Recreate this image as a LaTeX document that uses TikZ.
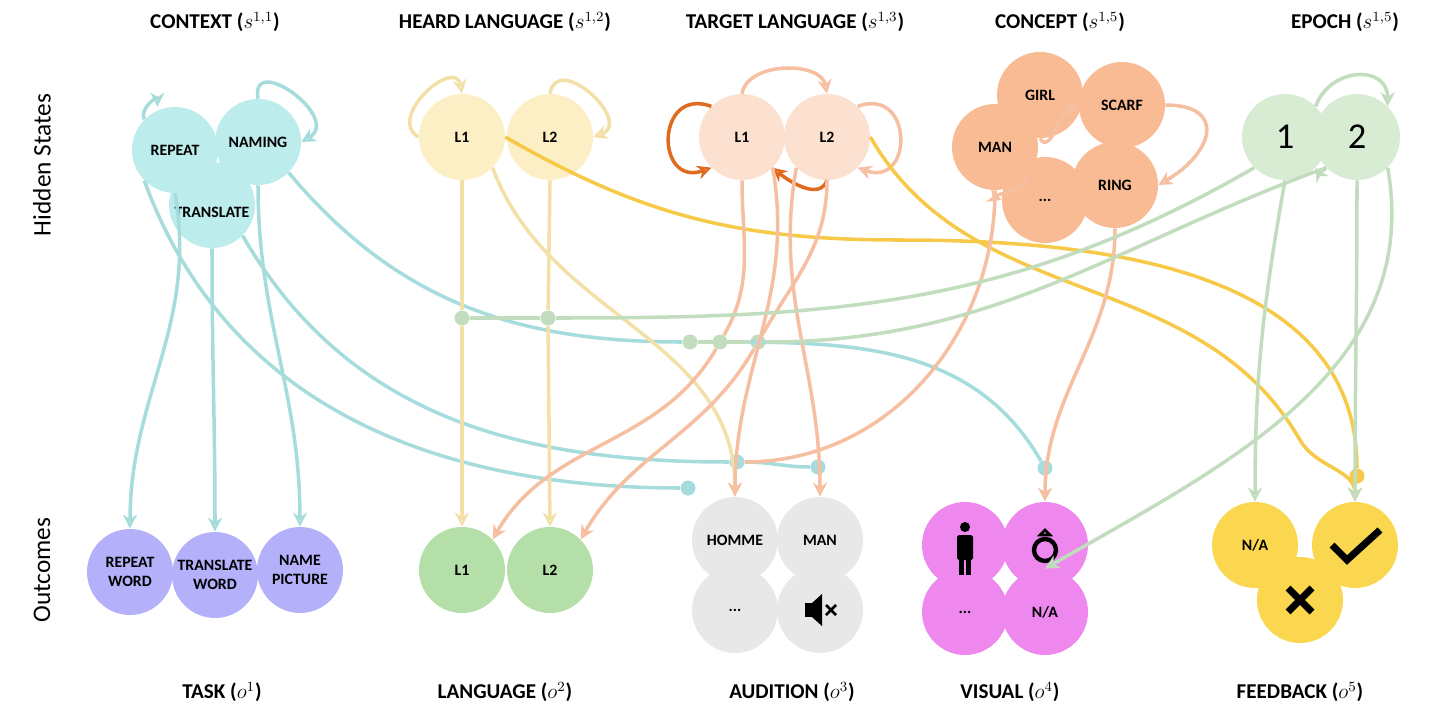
\documentclass[tikz,border=0pt]{standalone}
\usepackage{fontspec}
\setmainfont{Carlito}
\usetikzlibrary{arrows.meta}
\definecolor{cyn}{HTML}{BDECEC}
\definecolor{cynl}{HTML}{A6DCDC}
\definecolor{heard}{HTML}{FCEFC6}
\definecolor{heardl}{HTML}{F3DFA8}
\definecolor{targ}{HTML}{FCE0D0}
\definecolor{targl}{HTML}{F6BFA2}
\definecolor{conc}{HTML}{F8BB94}
\definecolor{epo}{HTML}{D8ECD4}
\definecolor{epol}{HTML}{C2DDBE}
\definecolor{task}{HTML}{B4B1FA}
\definecolor{lang}{HTML}{B5DFA8}
\definecolor{aud}{HTML}{E8E8E8}
\definecolor{vis}{HTML}{EE88EE}
\definecolor{fb}{HTML}{FBD64F}
\definecolor{orng}{HTML}{E06A1E}
\definecolor{gold}{HTML}{F7C948}
\begin{document}
\begin{tikzpicture}[x=0.02cm,y=-0.02cm,
  hs/.style={circle,minimum size=1.72cm,inner sep=0pt,font=\bfseries\small,align=center},
  title/.style={font=\bfseries\large},
  ln/.style={line width=2pt,-{Stealth[length=8pt,width=8pt,open]}},
  lnn/.style={line width=2pt},
  dot/.style={circle,minimum size=0.3cm,inner sep=0pt}]
\useasboundingbox (0,0) rectangle (1438,727);
% titles
\node[title] (t1) at (215,22) {CONTEXT ($s^{1,1}$)};
\node[title] (t2) at (505,22) {HEARD LANGUAGE ($s^{1,2}$)};
\node[title] (t3) at (795,22) {TARGET LANGUAGE ($s^{1,3}$)};
\node[title] (t4) at (1060,22) {CONCEPT ($s^{1,5}$)};
\node[title] (t5) at (1345,22) {EPOCH ($s^{1,5}$)};
\node[title] (b1) at (222,692) {TASK ($o^1$)};
\node[title] (b2) at (505,692) {LANGUAGE ($o^2$)};
\node[title] (b3) at (792,692) {AUDITION ($o^3$)};
\node[title] (b4) at (1010,692) {VISUAL ($o^4$)};
\node[title] (b5) at (1300,692) {FEEDBACK ($o^5$)};
\node[rotate=90,font=\Large] (hsl) at (42,165) {Hidden States};
\node[rotate=90,font=\Large] (ocl) at (42,570) {Outcomes};
% hidden state nodes
\node[hs,fill=cyn] (tra) at (212,205) {};
\node[hs,fill=cyn] (rep) at (175,150) {REPEAT};
\node[hs,fill=cyn] (nam) at (258,142) {NAMING};
\node[font=\bfseries\small] (tral) at (212,212) {TRANSLATE};
\node[hs,fill=heard] (h1) at (462,137) {L1};
\node[hs,fill=heard] (h2) at (550,137) {L2};
\node[hs,fill=targ] (g1) at (742,137) {L1};
\node[hs,fill=targ] (g2) at (827,137) {L2};
\node[hs,fill=conc] (girl) at (1040,95) {GIRL};
\node[hs,fill=conc] (scarf) at (1122,105) {SCARF};
\node[hs,fill=conc] (cdots) at (1045,200) {...};
\node[hs,fill=conc] (ring) at (1115,185) {RING};
\node[hs,fill=conc] (man) at (995,147) {MAN};
\node[hs,fill=epo,font=\huge] (e1) at (1285,137) {1};
\node[hs,fill=epo,font=\huge] (e2) at (1357,137) {2};
% outcome nodes
\node[hs,fill=task] (o11) at (130,572) {REPEAT\\WORD};
\node[hs,fill=task] (o12) at (215,575) {TRANSLATE\\WORD};
\node[hs,fill=task] (o13) at (300,570) {NAME\\PICTURE};
\node[hs,fill=lang] (o21) at (462,570) {L1};
\node[hs,fill=lang] (o22) at (550,570) {L2};
\node[hs,fill=aud] (o33) at (735,610) {...};
\node[hs,fill=aud] (o34) at (820,610) {};
\node[hs,fill=aud] (o31) at (735,540) {HOMME};
\node[hs,fill=aud] (o32) at (820,540) {MAN};
\node[hs,fill=vis] (o43) at (965,612) {...};
\node[hs,fill=vis] (o44) at (1045,612) {N/A};
\node[hs,fill=vis] (o41) at (965,545) {};
\node[hs,fill=vis] (o42) at (1045,545) {};
\node[hs,fill=fb] (o51) at (1255,545) {N/A};
\node[hs,fill=fb] (o53) at (1300,600) {};
\node[hs,fill=fb] (o52) at (1355,545) {};
% icons
\fill (965,527) circle (5);
\fill[rounded corners=1pt] (957,535) rectangle (973,560);
\fill (959,558) rectangle (964,575); \fill (966,558) rectangle (971,575);
\draw[line width=2.5pt] (1045,550) circle (11);
\draw[line width=1.5pt] (1040,535) -- (1045,530) -- (1050,535) -- cycle;
\fill (805,603) rectangle (812,617); \fill (812,603) -- (822,594) -- (822,626) -- (812,617) -- cycle;
\draw[line width=1.5pt] (826,605) -- (836,615) (826,615) -- (836,605);
\draw[line width=4pt] (1332,545) -- (1347,560) -- (1380,530);
\draw[line width=4pt] (1288,588) -- (1312,612) (1288,612) -- (1312,588);
% junction dots
\node[dot,fill=epol] (j1) at (462,318) {};
\node[dot,fill=epol] (j2) at (548,318) {};
\node[dot,fill=epol] (j3) at (690,342) {};
\node[dot,fill=epol] (j4) at (720,342) {};
\node[dot,fill=epol] (j5) at (758,342) {};
\node[dot,fill=cynl] (j6) at (737,462) {};
\node[dot,fill=cynl] (j7) at (818,467) {};
\node[dot,fill=cynl] (j8) at (688,488) {};
\node[dot,fill=cynl] (j9) at (1045,468) {};
\node[dot,fill=gold] (j10) at (1357,476) {};
% self loops
\draw[cynl,ln] (rep.north west) to[out=120,in=90,looseness=1.6] ([xshift=-10pt]rep.north) ;
\draw[cynl,ln] (nam.north) to[out=100,in=30,looseness=2] (nam.east);
\draw[heardl,ln] (h1.west) to[out=150,in=100,looseness=1.6] (h1.north);
\draw[heardl,ln] (h2.north) to[out=80,in=20,looseness=1.8] (h2.east);
\draw[orng,ln] (g1.north west) to[out=160,in=200,looseness=2.5] (g1.south west);
\draw[orng,ln] (g2.south) to[out=-110,in=-40] (g1.south east);
\draw[targl,ln] (g1.north) to[out=80,in=100] (g2.north);
\draw[targl,ln] (g2.north east) to[out=20,in=-20,looseness=2.5] (g2.south east);
\draw[targl,ln] (girl.south) to[out=-60,in=-160] (scarf.west);
\draw[targl,ln] (scarf.east) to[out=0,in=30,looseness=2] (ring.east);
\draw[targl,ln] (man.south east) to[out=-60,in=160] (cdots.west);
\draw[epol,ln] (e1.north east) to[out=70,in=90,looseness=1.5] (e2.north east);
\draw[epol,ln] (e2.south west) to[out=-120,in=-60] (e1.south east);
% context -> task
\draw[cynl,ln] (rep.south) to[out=-80,in=90] (o11.north);
\draw[cynl,ln] (tra.south) to[out=-90,in=90] (o12.north);
\draw[cynl,ln] (nam.south) to[out=-90,in=90] (o13.north);
% context -> other dots
\draw[cynl,lnn] (rep.south west) to[out=-70,in=180] (j8);
\draw[cynl,lnn] (tra.south east) to[out=-60,in=180] (j6);
\draw[cynl,lnn] (nam.south east) to[out=-50,in=180] (j3);
\draw[cynl,lnn] (j3) to[out=0,in=120] (j9);
\draw[cynl,lnn] (j6) to[out=0,in=180] (j7);
% heard
\draw[heardl,ln] (h1.south) -- (j1) -- (o21.north);
\draw[heardl,ln] (h2.south) -- (j2) -- (o22.north);
\draw[heardl,ln] (h1.south east) to[out=-70,in=90] (o31.north);
\draw[gold,lnn] (h1.east) to[out=-30,in=180] (900,240) to[out=0,in=90] (j10);
\draw[gold,ln] (g2.east) to[out=-60,in=120] (1300,440) to[out=-60,in=90] (o52.north);
% target
\draw[targl,ln] (g1.south) to[out=-90,in=60] (j4) to[out=-120,in=60] (o21.north east);
\draw[targl,ln] (g2.south) to[out=-90,in=60] (j5) to[out=-120,in=60] (o22.north east);
\draw[targl,ln] (g1.south east) to[out=-80,in=90] (o31.north);
\draw[targl,ln] (g2.south west) to[out=-100,in=90] (o32.north);
% concept
\draw[targl,lnn] (man.south) to[out=-90,in=0] (j6);
\draw[targl,ln] (ring.south) to[out=-90,in=90] (o42.north);
% epoch
\draw[epol,lnn] (e1.south west) to[out=-150,in=0] (j2) -- (j1);
\draw[epol,lnn] (e2.south west) to[out=-160,in=0] (j5) -- (j3);
\draw[epol,ln] (e1.south) to[out=-100,in=90] (o51.north);
\draw[epol,ln] (e2.south) to[out=-90,in=90] (o52.north);
\draw[epol,ln] (e2.south east) to[out=-80,in=30] (o44.north);
\end{tikzpicture}
\end{document}
